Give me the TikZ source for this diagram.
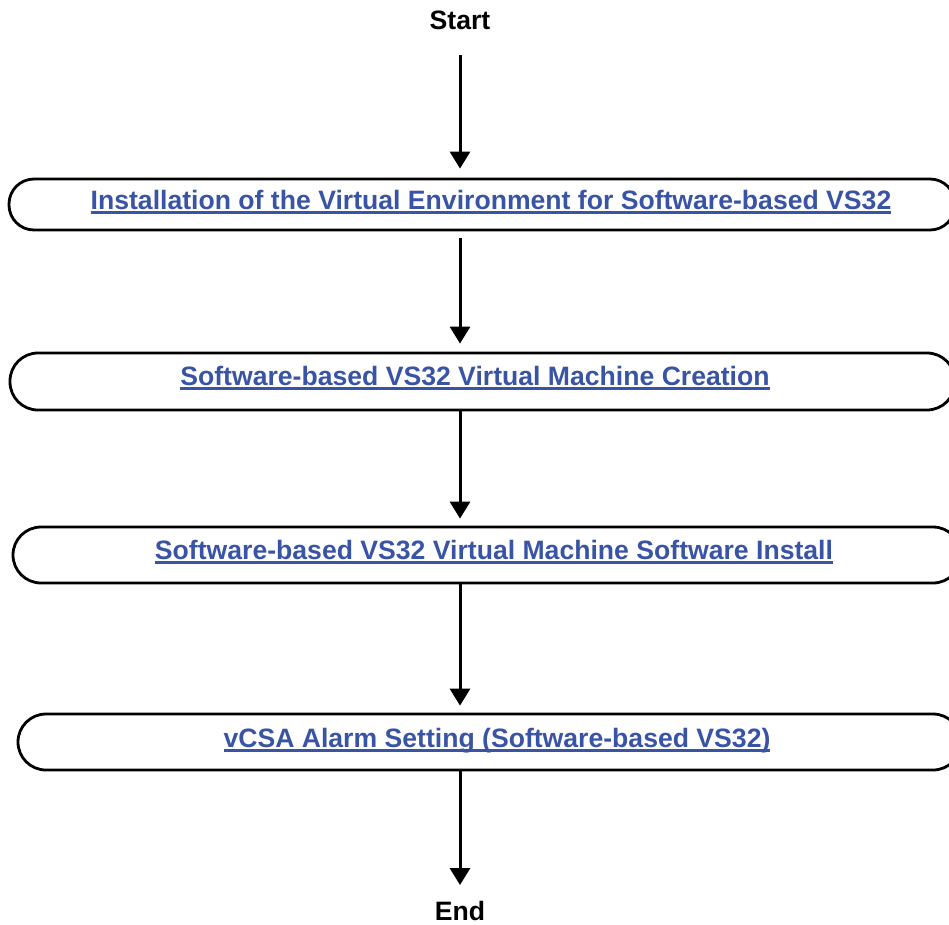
\documentclass[tikz,border=0pt]{standalone}
\usepackage{fontspec}
\setmainfont{Liberation Sans}
\usetikzlibrary{arrows.meta}
\definecolor{linkblue}{RGB}{58,84,165}
% underlined link text
\newcommand\ulnk[1]{\setbox0\hbox{#1}\rlap{\vrule width\wd0 height -2.2pt depth 4.8pt}\box0}
\tikzset{
  stepbox/.style={draw=black, line width=2.8pt, rectangle, inner sep=0pt},
  linktext/.style={text=linkblue, font=\fontsize{26.6}{30}\selectfont\bfseries, inner sep=0pt, anchor=base},
  plaintext/.style={text=black, font=\fontsize{26.6}{30}\selectfont\bfseries, inner sep=0pt, anchor=base},
  flow/.style={line width=3pt, -{Triangle[width=20pt,length=17pt]}},
}
\begin{document}
\begin{tikzpicture}[x=1pt,y=-1pt]
\useasboundingbox (0,0) rectangle (949,924);

% terminals
\node[plaintext] (start) at (460,29) {Start};
\node[plaintext] (end) at (460,920) {End};

% process boxes (they run past the right edge)
\node[stepbox, minimum width=946pt, minimum height=51pt, rounded corners=25pt] (b1) at (482,204.5) {};
\node[stepbox, minimum width=945pt, minimum height=57pt, rounded corners=28pt] (b2) at (482.5,381.5) {};
\node[stepbox, minimum width=948pt, minimum height=56pt, rounded corners=28pt] (b3) at (487,555) {};
\node[stepbox, minimum width=943pt, minimum height=56pt, rounded corners=28pt] (b4) at (489.5,742) {};

% labels
\node[linktext] (t1) at (491,209) {\ulnk{Installation of the Virtual Environment for Software-based VS32}};
\node[linktext] (t2) at (475,385) {\ulnk{Software-based VS32 Virtual Machine Creation}};
\node[linktext] (t3) at (494,559) {\ulnk{Software-based VS32 Virtual Machine Software Install}};
\node[linktext] (t4) at (497,747) {\ulnk{vCSA Alarm Setting (Software-based VS32)}};

% flow arrows along x = 460
\coordinate (axis) at (460,0);
\draw[flow, shorten <=26pt, shorten >=9pt] (start.base) -- (b1.north -| axis);
\draw[flow, shorten <=7pt, shorten >=8pt] (b1.south -| axis) -- (b2.north -| axis);
\draw[flow, shorten >=7pt] (b2.south -| axis) -- (b3.north -| axis);
\draw[flow, shorten >=7pt] (b3.south -| axis) -- (b4.north -| axis);
\draw[flow, shorten >=35pt] (b4.south -| axis) -- (end.base);
\end{tikzpicture}
\end{document}
